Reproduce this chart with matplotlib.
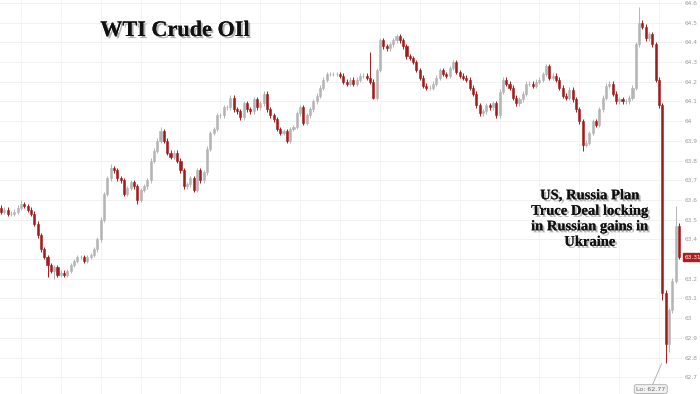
import matplotlib
matplotlib.use("Agg")
import matplotlib.pyplot as plt
import matplotlib.patheffects as pe
from matplotlib.transforms import blended_transform_factory

# ---------------- data ----------------
title = "WTI Crude OIl"
note = "US, Russia Plan\nTruce Deal locking\nin Russian gains in\nUkraine"
first_open = 63.56
closes = [
    63.54, 63.55, 63.53, 63.53, 63.54, 63.56, 63.58, 63.57, 63.55,
    63.53, 63.48, 63.42, 63.35, 63.31, 63.27, 63.24, 63.26, 63.22,
    63.23, 63.22, 63.24, 63.27, 63.29, 63.31, 63.31, 63.29, 63.31,
    63.32, 63.35, 63.40, 63.50, 63.63, 63.71, 63.76, 63.75, 63.71,
    63.70, 63.63, 63.66, 63.69, 63.67, 63.60, 63.65, 63.67, 63.70,
    63.80, 63.85, 63.90, 63.95, 63.90, 63.84, 63.82, 63.84, 63.80,
    63.75, 63.67, 63.68, 63.71, 63.65, 63.75, 63.70, 63.74, 63.86,
    63.94, 63.96, 64.03, 64.03, 64.07, 64.07, 64.12, 64.06, 64.05,
    64.02, 64.09, 64.06, 64.05, 64.11, 64.07, 64.09, 64.14, 64.06,
    64.03, 64.01, 63.96, 63.94, 63.95, 63.90, 63.96, 63.97, 64.04,
    64.07, 63.99, 64.03, 64.06, 64.10, 64.13, 64.17, 64.21, 64.24,
    64.24, 64.24, 64.24, 64.23, 64.20, 64.19, 64.21, 64.19, 64.21,
    64.23, 64.23, 64.22, 64.20, 64.12, 64.26, 64.41, 64.38, 64.37,
    64.39, 64.41, 64.43, 64.41, 64.38, 64.33, 64.32, 64.30, 64.26,
    64.22, 64.18, 64.17, 64.17, 64.19, 64.22, 64.26, 64.24, 64.23,
    64.27, 64.30, 64.25, 64.23, 64.22, 64.21, 64.17, 64.14, 64.08,
    64.04, 64.05, 64.08, 64.07, 64.09, 64.03, 64.15, 64.21, 64.19,
    64.17, 64.12, 64.09, 64.11, 64.14, 64.19, 64.19, 64.18, 64.20,
    64.21, 64.24, 64.28, 64.22, 64.23, 64.21, 64.17, 64.13, 64.12,
    64.16, 64.11, 64.06, 64.00, 63.88, 63.89, 63.94, 64.00, 63.98,
    64.06, 64.12, 64.18, 64.19, 64.14, 64.10, 64.11, 64.10, 64.10,
    64.12, 64.17, 64.39, 64.50, 64.48, 64.42, 64.44, 64.39, 64.21,
    64.08, 63.13, 62.87, 63.04, 63.19, 63.47, 63.31,
]
# notable wick extremes (candle index -> price)
wick_highs = {192: 64.58, 203: 63.57, 111: 64.35, 6: 63.60, 33: 63.78, 48: 63.97}
wick_lows = {200: 62.77, 201: 62.83, 112: 64.11, 175: 63.85, 86: 63.89,
             41: 63.58, 16: 63.20, 14: 63.21, 199: 63.09}
y_ticks = [62.7, 62.8, 62.9, 63.0, 63.1, 63.2, 63.3, 63.4, 63.5, 63.6,
           63.7, 63.8, 63.9, 64.0, 64.1, 64.2, 64.3, 64.4, 64.5, 64.6]
# 63.3 is hidden under the last-price box in the reference
y_tick_labels = ["62.7", "62.8", "62.9", "63", "63.1", "63.2", "", "63.4",
                 "63.5", "63.6", "63.7", "63.8", "63.9", "64", "64.1", "64.2",
                 "64.3", "64.4", "64.5", "64.6"]
last_price = 63.31
low_price = 62.77
low_index = 200

# ---------------- style ----------------
UP = "#b4b4b4"
DOWN = "#9e1c1c"
WICK = 0.012

fig = plt.figure(figsize=(7.0, 3.94), dpi=100)
ax = fig.add_axes([0, 0, 682 / 700, 1])
ax.set_facecolor("white")

opens = [first_open] + closes[:-1]
for i, (o, c) in enumerate(zip(opens, closes)):
    col = UP if c >= o else DOWN
    hi = wick_highs.get(i, max(o, c) + WICK)
    lo = wick_lows.get(i, min(o, c) - WICK)
    ax.vlines(i, lo, hi, color=col, linewidth=0.7, zorder=2)
    ax.bar(i, abs(c - o), bottom=min(o, c), width=0.62, color=col,
           edgecolor=col, linewidth=0.4, zorder=3)

ax.set_xlim(-0.3, len(closes) - 0.1)
ax.set_ylim(62.615, 64.615)

# grid
for t in y_ticks:
    ax.axhline(t, color="#efefef", linewidth=0.6, zorder=0)
for xv in range(6, len(closes), 12):
    ax.axvline(xv, color="#f3f3f3", linewidth=0.6, zorder=0)

for s in ax.spines.values():
    s.set_visible(False)
ax.set_xticks([])
ax.yaxis.tick_right()
ax.set_yticks(y_ticks)
ax.set_yticklabels(y_tick_labels)
ax.tick_params(axis="y", length=0, pad=2, labelsize=4.2, labelcolor="#9a9a9a")

# title
shadow = [pe.withSimplePatchShadow(offset=(1.5, -1.5), shadow_rgbFace="#777777", alpha=0.55),
          pe.Normal()]
ax.text(175 / 682, 1 - 31 / 394, title, transform=ax.transAxes, ha="center", va="center",
        fontsize=16, fontweight="bold", family="Liberation Serif", color="#111111",
        path_effects=shadow)

# annotation
ax.text(590 / 682, 1 - 219 / 394, note, transform=ax.transAxes, ha="center", va="center",
        fontsize=10.5, fontweight="bold", family="Liberation Serif", color="#111111",
        linespacing=1.25, path_effects=shadow)

# last price box
tr = blended_transform_factory(ax.transAxes, ax.transData)
ax.text(1.004, last_price, f"{last_price:.2f}", transform=tr, ha="left", va="center",
        fontsize=4.2, color="white", clip_on=False, zorder=5,
        bbox=dict(boxstyle="square,pad=0.25", facecolor="#b01e1e", edgecolor="#b01e1e"))

# low marker
ax.annotate(f"Lo: {low_price:.2f}", xy=(low_index - 1.2, low_price),
            xytext=(low_index - 4.5, 62.64), ha="center", va="center",
            fontsize=4.5, color="#666666",
            bbox=dict(boxstyle="round,pad=0.3", facecolor="#f2f2f2", edgecolor="#aaaaaa",
                      linewidth=0.6),
            arrowprops=dict(arrowstyle="-", color="#aaaaaa", linewidth=0.6,
                            shrinkA=0, shrinkB=0))

fig.savefig("out.png", dpi=100)
